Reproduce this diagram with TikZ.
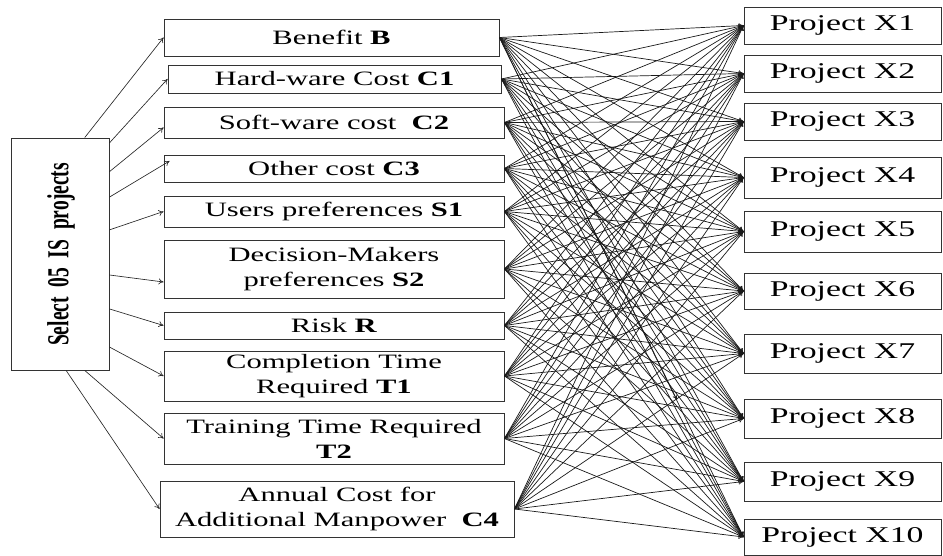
\documentclass[tikz,border=0pt]{standalone}
\usepackage{fontspec}
\setmainfont{Liberation Serif}[FakeStretch=1.5]
\newfontfamily\sidefont{Liberation Serif}[FakeStretch=0.64]
\usetikzlibrary{arrows.meta}

\begin{document}
\begin{tikzpicture}[x=1pt,y=-1pt,
  box/.style={draw=black!80, line width=0.9pt, inner sep=0pt, align=center,
    font=\fontsize{20.4}{25}\selectfont},
  proj/.style={box, minimum width=197pt, font=\fontsize{22.5}{26}\selectfont},
  feed/.style={draw=black!85, line width=0.65pt, -{To[length=5pt,width=6pt]}},
  link/.style={draw=black!90, line width=0.7pt, -{To[length=5pt,width=5pt]}}
]
\useasboundingbox (0,0) rectangle (943,556);

% source box with vertical title
\node[draw=black!80, line width=0.9pt, minimum width=98pt, minimum height=232pt] (L) at (60,254) {};
\node[rotate=90, inner sep=0pt, font=\sidefont\bfseries\fontsize{30.5}{30}\selectfont] (Ltitle) at (61,254.5) {Select\ \ 05\ \ IS\ \ projects};

% criteria
\node[box, minimum width=335pt, minimum height=37pt] (B)  at (331.5,37.5) {Benefit \textbf{B}};
\node[box, minimum width=333pt, minimum height=28pt] (C1) at (334.5,79)   {Hard-ware Cost \textbf{C1}};
\node[box, minimum width=340pt, minimum height=31pt] (C2) at (334,122.5)  {Soft-ware cost\ \ \textbf{C2}};
\node[box, minimum width=340pt, minimum height=27pt] (C3) at (334,168.5)  {Other cost \textbf{C3}};
\node[box, minimum width=340pt, minimum height=31pt] (S1) at (334,211.5)  {Users preferences \textbf{S1}};
\node[box, minimum width=340pt, minimum height=58pt] (S2) at (334,269)    {Decision-Makers\\preferences \textbf{S2}};
\node[box, minimum width=340pt, minimum height=27pt] (R)  at (334,325.5)  {Risk \textbf{R}};
\node[box, minimum width=340pt, minimum height=50pt] (T1) at (334,376)    {Completion Time\\Required \textbf{T1}};
\node[box, minimum width=340pt, minimum height=51pt] (T2) at (334,438.5)  {Training Time Required\\\textbf{T2}};
\node[box, minimum width=354pt, minimum height=56pt] (C4) at (337,509)    {Annual Cost for\\Additional Manpower\ \ \textbf{C4}};

% projects
\node[proj, minimum height=37pt] (X1)  at (842.5,25.5)  {Project X1};
\node[proj, minimum height=37pt] (X2)  at (842.5,73.5)  {Project X2};
\node[proj, minimum height=37pt] (X3)  at (842.5,121.5) {Project X3};
\node[proj, minimum height=41pt] (X4)  at (842.5,177.5) {Project X4};
\node[proj, minimum height=41pt] (X5)  at (842.5,231.5) {Project X5};
\node[proj, minimum height=36pt] (X6)  at (842.5,291)   {Project X6};
\node[proj, minimum height=39pt] (X7)  at (842.5,353.5) {Project X7};
\node[proj, minimum height=39pt] (X8)  at (842.5,418.5) {Project X8};
\node[proj, minimum height=39pt] (X9)  at (842.5,481.5) {Project X9};
\node[proj, minimum height=36pt] (X10) at (842.5,537)   {Project X10};

% source to criteria
\draw[feed] (L.78.3) -- (B.west);
\draw[feed] (L.66) -- (C1.west);
\draw[feed] (L.59.7) -- ([yshift=-5pt]C2.west);
\draw[feed] (L.49.8) -- ([xshift=6pt,yshift=7.5pt]C3.west);
\draw[feed] (L.26.1) -- (S1.west);
\draw[feed] (L.-23.2) -- ([yshift=-13pt]S2.west);
\draw[feed] (L.-48.3) -- (R.west);
\draw[feed] (L.-62) -- (T1.west);
\draw[feed] (L.-78.3) -- (T2.west);
\draw[feed] (L.-87.5) -- (C4.west);

% every criterion to every project
\foreach \c in {B,C1,C2,C3,S1,S2,R,T1,T2,C4}{
  \foreach \p in {X1,X2,X3,X4,X5,X6,X7,X8,X9,X10}{
    \draw[link] (\c.east) -- (\p.west);
  }
}
\coordinate (stray) at (677,400);
\draw[link] (B.east) -- (stray);
\end{tikzpicture}
\end{document}
